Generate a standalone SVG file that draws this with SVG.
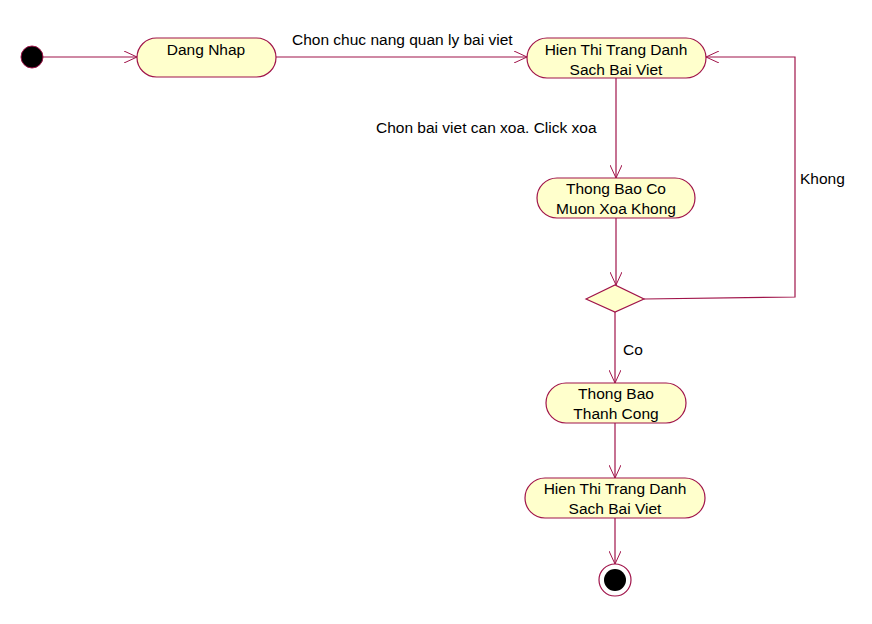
<svg xmlns="http://www.w3.org/2000/svg" width="872" height="624" viewBox="0 0 872 624">
<defs>
<marker id="arr" viewBox="0 0 14 12" refX="13" refY="6" markerWidth="14" markerHeight="12" markerUnits="userSpaceOnUse" orient="auto">
<path d="M0,0 L13,6 L0,12" fill="none" stroke="#a0144a" stroke-width="1"/>
</marker>
</defs>
<style>
.act{fill:#ffffcc;stroke:#a0144a;stroke-width:1.2}
.t{font-family:"Liberation Sans",Arial,sans-serif;font-size:15.5px;fill:#000;text-anchor:middle}
.l{font-family:"Liberation Sans",Arial,sans-serif;font-size:15.5px;fill:#000}
.e{fill:none;stroke:#a0144a;stroke-width:1.2;marker-end:url(#arr)}
</style>
<rect width="872" height="624" fill="#fff"/>
<g id="connectors">
<path class="e" d="M43,57 L137,57"/>
<path class="e" d="M276,57 L527,57"/>
<path class="e" d="M616,78 L616,178"/>
<path class="e" d="M616,218 L616,285"/>
<path class="e" d="M644,299 L795,297 L795,57 L706,57"/>
<path class="e" d="M615,312 L615,383"/>
<path class="e" d="M615,423 L615,478"/>
<path class="e" d="M615,518 L615,564"/>
<text class="l" x="292" y="45">Chon chuc nang quan ly bai viet</text>
<text class="l" x="376" y="133">Chon bai viet can xoa. Click xoa</text>
<text class="l" x="800" y="184">Khong</text>
<text class="l" x="623" y="355">Co</text>
</g>
<g id="start"><circle cx="32" cy="57" r="11" fill="#000" stroke="#a0144a" stroke-width="1"/></g>
<g id="dangnhap"><rect class="act" x="137" y="38" width="139" height="39" rx="19.5"/><text class="t" x="206" y="55">Dang Nhap</text></g>
<g id="hienthi1"><rect class="act" x="527" y="38" width="179" height="40" rx="20"/><text class="t" x="616" y="55">Hien Thi Trang Danh</text><text class="t" x="616" y="75">Sach Bai Viet</text></g>
<g id="thongbaoco"><rect class="act" x="537" y="178" width="158" height="40" rx="20"/><text class="t" x="616" y="194">Thong Bao Co</text><text class="t" x="616" y="214">Muon Xoa Khong</text></g>
<g id="decision"><polygon class="act" points="586,299 615,285 644,299 615,312"/></g>
<g id="thanhcong"><rect class="act" x="546" y="383" width="140" height="40" rx="20"/><text class="t" x="616" y="399">Thong Bao</text><text class="t" x="616" y="419">Thanh Cong</text></g>
<g id="hienthi2"><rect class="act" x="525" y="478" width="180" height="40" rx="20"/><text class="t" x="615" y="494">Hien Thi Trang Danh</text><text class="t" x="615" y="514">Sach Bai Viet</text></g>
<g id="end"><circle cx="615" cy="580" r="16" fill="#fff" stroke="#a0144a" stroke-width="1.2"/><circle cx="615" cy="580" r="11" fill="#000"/></g>
</svg>
